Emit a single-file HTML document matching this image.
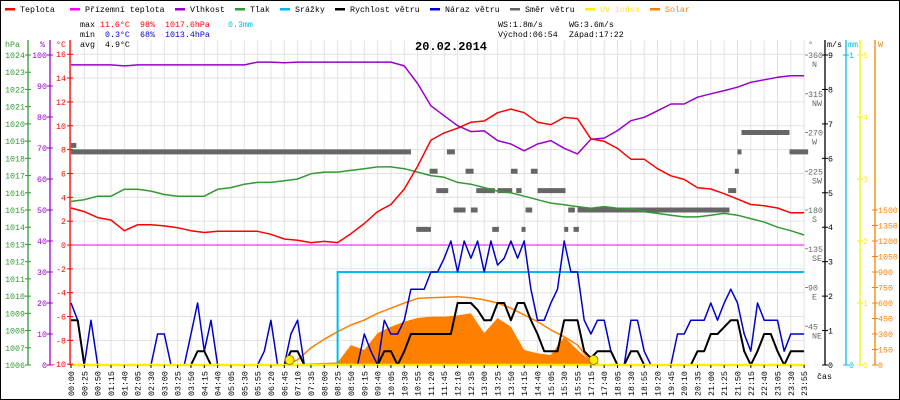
<!DOCTYPE html>
<html><head><meta charset="utf-8">
<style>
html,body{margin:0;padding:0;background:#fff}
svg{display:block}
text{font-family:"Liberation Mono",monospace;font-size:8.3px}
</style></head>
<body>
<svg id="chart" width="900" height="400" viewBox="0 0 900 400" xmlns="http://www.w3.org/2000/svg">
<rect x="0.5" y="0.5" width="899" height="399" fill="#fff" stroke="#000"/>
<g id="grid"></g>
<g id="series"></g>
<g id="axes"></g>
<g id="legend"></g>
<g font-weight="normal">
<text x="80" y="27">max</text>
<text x="100" y="27" fill="#f00">11.6°C</text>
<text x="140" y="27" fill="#f00">98%</text>
<text x="165" y="27" fill="#f00">1017.6hPa</text>
<text x="228" y="27" fill="#00bbee">0.3mm</text>
<text x="80" y="37">min</text>
<text x="105" y="37" fill="#00c">0.3°C</text>
<text x="140" y="37" fill="#00c">68%</text>
<text x="165" y="37" fill="#00c">1013.4hPa</text>
<text x="80" y="47">avg</text>
<text x="105" y="47">4.9°C</text>
<text x="498" y="27">WS:1.8m/s</text>
<text x="569" y="27">WG:3.6m/s</text>
<text x="498" y="37">Východ:06:54</text>
<text x="569" y="37">Západ:17:22</text>
<text x="415" y="50" style="font-size:12px;font-weight:bold">20.02.2014</text>
</g>
</svg>
<script>
// ---- data ----
const timeLabels = ["00:00","00:25","00:50","01:15","01:40","02:05","02:30","03:00","03:25","03:50","04:15","04:40","05:05","05:30","05:55","06:20","06:45","07:10","07:35","08:00","08:25","08:50","09:15","09:40","10:05","10:30","10:55","11:20","11:45","12:10","12:35","13:00","13:25","13:50","14:15","14:40","15:05","15:30","15:55","17:15","17:40","18:05","18:30","18:55","19:20","19:45","20:10","20:35","21:00","21:25","21:50","22:15","22:40","23:05","23:30","23:55"];
const temperature = [3.1,2.8,2.3,2.1,1.2,1.7,1.7,1.6,1.45,1.2,1.05,1.15,1.15,1.15,1.15,0.9,0.5,0.4,0.2,0.3,0.2,0.95,1.8,2.8,3.4,4.7,6.6,8.8,9.4,9.8,10.3,10.4,11.1,11.4,11.1,10.3,10.1,10.7,10.6,8.9,8.7,8.1,7.2,7.2,6.4,5.8,5.5,4.8,4.7,4.3,3.85,3.4,3.3,3.1,2.7,2.7];
const humidity = [96.8,96.8,96.8,96.8,96.5,96.8,96.8,96.8,96.8,96.8,96.8,96.8,96.8,96.8,97.7,97.7,97.5,97.7,97.7,97.7,97.7,97.7,97.7,97.7,97.7,96.5,90.8,83.6,80.4,77.2,75.3,75.5,72.4,71.3,69.1,71.3,72.4,69.9,68.1,72.8,73.2,75.6,78.8,79.9,82,84.2,84.2,86.4,87.5,88.5,89.6,91.2,92,92.8,93.3,93.3];
const pressure = [1015.5,1015.6,1015.8,1015.8,1016.2,1016.2,1016.1,1015.9,1015.8,1015.8,1015.8,1016.2,1016.3,1016.5,1016.6,1016.6,1016.7,1016.8,1017.1,1017.2,1017.2,1017.3,1017.4,1017.5,1017.5,1017.4,1017.2,1017.0,1016.9,1016.6,1016.5,1016.3,1016.1,1016.0,1015.8,1015.6,1015.4,1015.3,1015.2,1015.1,1015.2,1015.1,1015.1,1014.9,1014.8,1014.7,1014.6,1014.6,1014.7,1014.8,1014.7,1014.5,1014.3,1014.0,1013.8,1013.55];
const apparentTemp = [0,0,0,0,0,0,0,0,0,0,0,0,0,0,0,0,0,0,0,0,0,0,0,0,0,0,0,0,0,0,0,0,0,0,0,0,0,0,0,0,0,0,0,0,0,0,0,0,0,0,0,0,0,0,0,0];
const rain = [0,0,0,0,0,0,0,0,0,0,0,0,0,0,0,0,0,0,0,0,0.3,0.3,0.3,0.3,0.3,0.3,0.3,0.3,0.3,0.3,0.3,0.3,0.3,0.3,0.3,0.3,0.3,0.3,0.3,0.3,0.3,0.3,0.3,0.3,0.3,0.3,0.3,0.3,0.3,0.3,0.3,0.3,0.3,0.3,0.3,0.3];
// half-step samples (index 0, 0.5, 1, ... 55)
const gust = [1.8,1.3,0,1.3,0,0,0,0,0,0,0,0,0,0.9,0.9,0,0,0,0.9,1.8,0.4,1.3,0,0,0,0,0,0,0,0.4,1.3,0,0,0.9,1.3,0,0,0,0,0,0,0,0,0,0.9,0.4,0,1.3,0.9,0.9,1.3,2.2,2.2,2.2,2.7,2.7,3.1,3.6,2.7,3.6,3.1,3.6,2.7,3.6,2.9,3.1,3.6,3.1,3.6,2.2,1.3,1.3,1.8,2.2,3.6,2.7,2.7,1.3,0.9,1.3,1.3,0.4,0,0,1.3,1.3,0.4,0,0,0,0,0.9,0.9,1.3,1.3,1.3,1.8,1.3,1.8,2.2,1.8,0.9,0.4,1.8,1.3,1.3,1.3,0.4,0.9,0.9,0.9];
const windSpeed = [1.3,1.3,0,0,0,0,0,0,0,0,0,0,0,0,0,0,0,0,0,0.4,0.4,0,0,0,0,0,0,0,0,0,0,0,0,0.4,0.4,0,0,0,0,0,0,0,0,0,0,0,0,0.4,0.4,0,0.4,0.9,0.9,0.9,0.9,0.9,0.9,0.9,1.8,1.8,1.8,1.6,1.3,1.3,1.8,1.8,1.3,1.8,1.8,1.3,0.9,0.4,0.4,0.4,1.3,1.3,1.3,0.4,0.2,0.4,0.4,0.4,0,0,0.4,0.4,0,0,0,0,0,0,0,0,0.4,0.4,0.9,0.9,1.1,1.3,1.3,0.4,0,0.4,0.9,0.9,0.4,0,0.4,0.4,0.4];
const solar = [0,0,0,0,0,0,0,0,0,0,0,0,0,0,0,0,0,10,15,20,25,194,145,310,370,420,455,468,468,480,500,310,455,370,145,113,97,274,145,32,0,0,0,0,0,0,0,0,0,0,0,0,0,0,0,0];
const solarMax = [null,null,null,null,null,null,null,null,null,null,null,null,null,null,null,null,0,50,165,250,322,387,435,500,550,600,645,650,655,661,650,630,600,550,485,420,340,274,194,30,null,null,null,null,null,null,null,null,null,null,null,null,null,null,null,null];
// wind direction segments: start index, end index, degrees
const dirStart = [0,0,25.9,26.9,27.4,28.2,28.7,29.6,30,30.4,31.6,32,33,33.4,33.8,34.1,34.5,35,37,37.3,37.7,38,49.3,49.8,50,50.3,53.9];
const dirEnd   = [25.5,0.4,27,27.5,28.3,28.8,29.6,30.2,30.5,31.8,32.1,33.1,33.5,33.8,34.1,34.6,35,37.1,37.3,37.8,38.1,49.4,49.9,50.1,50.3,53.9,55.3];
const dirValue = [247.5,255,157.5,225,202.5,247.5,180,225,180,202.5,157.5,202.5,225,202.5,157.5,180,225,202.5,157.5,180,157.5,180,202.5,225,247.5,270,247.5];
const sunEvents = [16.4,39.2];
const hpaTicks = [1024,1023,1022,1021,1020,1019,1018,1017,1016,1015,1014,1013,1012,1011,1010,1009,1008,1007,1006];
const humTicks = [100,90,80,70,60,50,40,30,20,10,0];
const tempTicks = [16,14,12,10,8,6,4,2,0,-2,-4,-6,-8,-10];
const dirTicks = [360,315,270,225,180,135,90,45];
const dirNames = ["N","NW","W","SW","S","SE","E","NE"];
const msTicks = [9,8,7,6,5,4,3,2,1,0];
const mmTicks = [1,0];
const uvTicks = [5,4,3,2,1,0];
const wTicks = [1500,1350,1200,1050,900,750,600,450,300,150,0];

// ---- scales ----
const TOP=55, BOT=365, LEFT=70, RIGHT=805;
const X = i => 71 + i*13.33;
const yT = v => 245 - v*(BOT-TOP)/26;
const yH = v => BOT - v*(BOT-TOP)/100;
const yP = v => TOP + (1024-v)*(BOT-TOP)/18;
const yD = v => BOT - v*(BOT-TOP)/360;
const yMS = v => BOT - v*(BOT-TOP)/9;
const yMM = v => BOT - v*(BOT-TOP)/1;
const yUV = v => BOT - v*(BOT-TOP)/5;
const yW = v => BOT - v*(BOT-210)/1500;

const NS="http://www.w3.org/2000/svg";
function mk(tag, attrs, parent, txt){const e=document.createElementNS(NS,tag);for(const k in attrs)e.setAttribute(k,attrs[k]);if(txt!==undefined)e.textContent=txt;parent.appendChild(e);return e;}
const grid=document.getElementById('grid'), ser=document.getElementById('series'), axes=document.getElementById('axes'), leg=document.getElementById('legend');

// grid
timeLabels.forEach((t,i)=>{
  const l=mk('line',{x1:X(i),x2:X(i),y1:40,y2:BOT,stroke:'#e2e2e2','stroke-width':1},grid);
  
  
  const tk=mk('line',{x1:X(i),x2:X(i),y1:BOT,y2:BOT+3,stroke:'#000'},axes);
  
  
  const tx=X(i)+3, ty=396;
  const lb=mk('text',{x:tx,y:ty,transform:`rotate(-90 ${tx} ${ty})`},axes,t);
  
  
});
tempTicks.forEach(v=>{
  const l=mk('line',{x1:LEFT,x2:RIGHT,y1:yT(v),y2:yT(v),stroke:'#e2e2e2'},grid);
  
  
});

function poly(vals, xf, yf, color, w, name){
  const pts=[];vals.forEach((v,i)=>{if(v!==null)pts.push(xf(i).toFixed(1)+','+yf(v).toFixed(1));});
  const p=mk('polyline',{points:pts.join(' '),fill:'none',stroke:color,'stroke-width':w,'stroke-linejoin':'round'},ser);
  
  
  return p;
}
// solar fill
{
  const pts=[X(0)+','+BOT];solar.forEach((v,i)=>pts.push(X(i).toFixed(1)+','+yW(v).toFixed(1)));pts.push(X(solar.length-1)+','+BOT);
  const p=mk('polygon',{points:pts.join(' '),fill:'#ff8000'},ser);
  
  
}
poly(solarMax, X, yW, '#ff8000', 1.5, 'solar-max-line');
// wind direction
dirValue.forEach((d,k)=>{
  const r=mk('rect',{x:X(dirStart[k]),y:yD(d)-2.5,width:Math.max(3,X(dirEnd[k])-X(dirStart[k])),height:5,fill:'#666'},ser);
  
  
});
poly(pressure, X, yP, '#339933', 1.5, 'pressure-line');
poly(humidity, X, yH, '#9900cc', 1.5, 'humidity-line');
poly(temperature, X, yT, '#ff0000', 1.5, 'temperature-line');
poly(apparentTemp, X, yT, '#ff00ff', 1, 'apparent-temperature-line');
// rain step
{
  const pts=[];rain.forEach((v,i)=>{if(i>0)pts.push(X(i).toFixed(1)+','+yMM(rain[i-1]).toFixed(1));pts.push(X(i).toFixed(1)+','+yMM(v).toFixed(1));});
  const p=mk('polyline',{points:pts.join(' '),fill:'none',stroke:'#00bbee','stroke-width':2},ser);
  
  
}
const XH = i => X(i/2);
poly(gust, XH, yMS, '#0000cc', 1.5, 'gust-line');
poly(windSpeed, XH, yMS, '#000', 2, 'wind-speed-line');
// UV line
{
  const l=mk('line',{x1:LEFT,x2:RIGHT,y1:BOT,y2:BOT,stroke:'#ffee00','stroke-width':2.5},ser);
  
  
}
sunEvents.forEach(i=>{
  const c=mk('circle',{cx:X(i),cy:360,r:4.5,fill:'#ffee00',stroke:'#886600','stroke-width':0.8},ser);
  
  
});

// axes
function vaxis(x,color,ticks,yf,name,labelSide,labelX){
  const l=mk('line',{x1:x,x2:x,y1:40,y2:BOT,stroke:color,'stroke-width':1.3},axes);
  
  
  ticks.forEach(v=>{
    const t=mk('line',{x1:x-3,x2:x+3,y1:yf(v),y2:yf(v),stroke:color},axes);
    
    
    const tx=mk('text',{x:labelX,y:yf(v)+3,fill:color,'text-anchor':labelSide},axes,String(v));
    
    
  });
}
vaxis(28,'#339933',hpaTicks,yP,'pressure','end',25);
vaxis(50,'#9900cc',humTicks,yH,'humidity','end',47);
vaxis(LEFT,'#ff0000',tempTicks,yT,'temperature','end',66);
vaxis(825,'#000',msTicks,yMS,'wind','start',828);
vaxis(846,'#00bbee',mmTicks,yMM,'rain','start',849);
vaxis(860,'#ffee00',uvTicks,yUV,'uv','start',863);
{
  const l=mk('line',{x1:875,x2:875,y1:40,y2:BOT,stroke:'#ff8000','stroke-width':1.3},axes);
  
  
  wTicks.forEach(v=>{
    const t=mk('line',{x1:872,x2:878,y1:yW(v),y2:yW(v),stroke:'#ff8000'},axes);
    
    
    const tx=mk('text',{x:878,y:yW(v)+3,fill:'#ff8000'},axes,String(v));
    
    
  });
}
dirTicks.forEach((v,k)=>{
  const t=mk('line',{x1:805,x2:808,y1:yD(v),y2:yD(v),stroke:'#888'},axes);
  
  
  const tx=mk('text',{x:808,y:yD(v)+3,fill:'#666'},axes,String(v));
  
  
  const tn=mk('text',{x:812,y:yD(v)+12,fill:'#666'},axes,dirNames[k]);
  
  
});
[["hPa",5,'#339933'],["%",40,'#9900cc'],["°C",56,'#ff0000'],["°",808,'#666'],["m/s",827,'#000'],["mm",848,'#00bbee'],["W",878,'#ff8000'],["čas",817,'#000']].forEach(([t,x,c],k)=>{
  const tx=mk('text',{x:x,y:k==7?379:47,fill:c},axes,t);
  
  
});

// legend
[["Teplota",'#ff0000',5],["Přízemní teplota",'#ff00ff',70],["Vlhkost",'#9900cc',175],["Tlak",'#339933',235],["Srážky",'#00bbee',280],["Rychlost větru",'#000',335],["Náraz větru",'#0000cc',430],["Směr větru",'#666',510],["UV index",'#ffee00',585],["Solar",'#ff8000',650]].forEach(([t,c,x])=>{
  const g=mk('g',{},leg);
  
  
  mk('rect',{x:x,y:8,width:10,height:2.5,fill:c},g);
  mk('text',{x:x+15,y:12,fill:(c=='#ffee00'||c=='#ff8000')?c:'#000'},g,t);
});
</script>
</body></html>
